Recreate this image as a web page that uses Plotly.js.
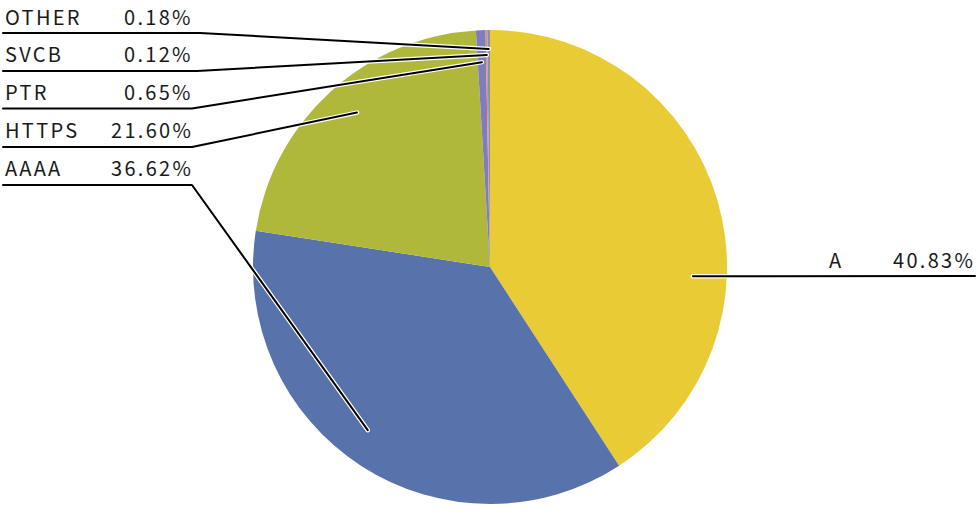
<!DOCTYPE html>
<html>
<head>
<meta charset="utf-8">
<script src="https://cdn.plot.ly/plotly-3.0.1.min.js"></script>
<style>
html,body{margin:0;padding:0;background:#fff;}
#chart{width:980px;height:530px;}
.annotation-text{letter-spacing:2.3px;}
</style>
</head>
<body>
<div id="chart"></div>
<script>
// ---- data ----
const labels = ["A", "AAAA", "HTTPS", "PTR", "SVCB", "OTHER"];
const values = [40.83, 36.62, 21.60, 0.65, 0.12, 0.18];
const colors = ["#E8CB35", "#5873AB", "#B0B83B", "#7F7DC0", "#DC9174", "#8F8FA0"];

// ---- layout constants (pixels) ----
const W = 980, H = 530;
const CX = 490, CY = 267, R = 237;
// label placement: where leader line anchors inside slice
const anchorFrac = [0.63, 0.53, 0.52, 0.5, 0.5, 0.5];   // position within slice angle
const anchorRad  = [0.857, 0.86, 0.86, 0.865, 0.895, 0.92];
// label rows
const rowY    = {OTHER: 17, SVCB: 54, PTR: 92, HTTPS: 129, AAAA: 167, A: 259};
const lineY   = {OTHER: 33, SVCB: 71, PTR: 108.5, HTTPS: 147, AAAA: 185, A: 276};
const bendX   = {OTHER: 200, SVCB: 197, PTR: 192, HTTPS: 192, AAAA: 192};

const px = x => x / W;
const py = y => 1 - y / H;

const total = values.reduce((a, b) => a + b, 0);
let cum = 0;
const anchors = values.map((v, i) => {
  const a0 = cum / total * 360;
  cum += v;
  const a1 = cum / total * 360;
  const ang = (a0 + (a1 - a0) * anchorFrac[i]) * Math.PI / 180;
  const r = R * anchorRad[i];
  return [CX + r * Math.sin(ang), CY - r * Math.cos(ang)];
});

const shapes = [];
const annotations = [];
const font = {family: "Noto Sans CJK JP, Noto Sans, sans-serif", size: 20, color: "#1a1a1a"};

labels.forEach((lab, i) => {
  const pct = values[i].toFixed(2) + "%";
  const [ex, ey] = anchors[i];
  let path;
  if (lab === "A") {
    path = `M ${px(975)} ${py(lineY.A)} L ${px(ex)} ${py(ey)}`;
    annotations.push({xref: "paper", yref: "paper", x: px(827), y: py(rowY.A), xanchor: "left", yanchor: "middle", text: lab, showarrow: false, font});
    annotations.push({xref: "paper", yref: "paper", x: px(977), y: py(rowY.A), xanchor: "right", yanchor: "middle", text: pct, showarrow: false, font});
  } else {
    path = `M ${px(3)} ${py(lineY[lab])} L ${px(bendX[lab])} ${py(lineY[lab])} L ${px(ex)} ${py(ey)}`;
    annotations.push({xref: "paper", yref: "paper", x: px(3), y: py(rowY[lab]), xanchor: "left", yanchor: "middle", text: lab, showarrow: false, font});
    annotations.push({xref: "paper", yref: "paper", x: px(195), y: py(rowY[lab]), xanchor: "right", yanchor: "middle", text: pct, showarrow: false, font});
  }
  shapes.push({type: "path", xref: "paper", yref: "paper", path, line: {color: "#ffffff", width: 4.5}});
  shapes.push({type: "path", xref: "paper", yref: "paper", path, line: {color: "#000000", width: 2}});
});

const trace = {
  type: "pie",
  labels: labels,
  values: values,
  sort: false,
  direction: "clockwise",
  rotation: 0,
  textinfo: "none",
  hoverinfo: "none",
  marker: {colors: colors, line: {width: 0}},
  domain: {x: [(CX - R) / W, (CX + R) / W], y: [1 - (CY + R) / H, 1 - (CY - R) / H]},
  showlegend: false
};

const layout = {
  width: W, height: H,
  margin: {l: 0, r: 0, t: 0, b: 0},
  paper_bgcolor: "#ffffff",
  showlegend: false,
  shapes, annotations
};

Plotly.newPlot("chart", [trace], layout, {displayModeBar: false, staticPlot: true}).then(() => {
  document.querySelectorAll(".shapelayer path").forEach(p => {
    p.style.strokeLinecap = "round";
    p.style.strokeLinejoin = "round";
  });
});
</script>
</body>
</html>
